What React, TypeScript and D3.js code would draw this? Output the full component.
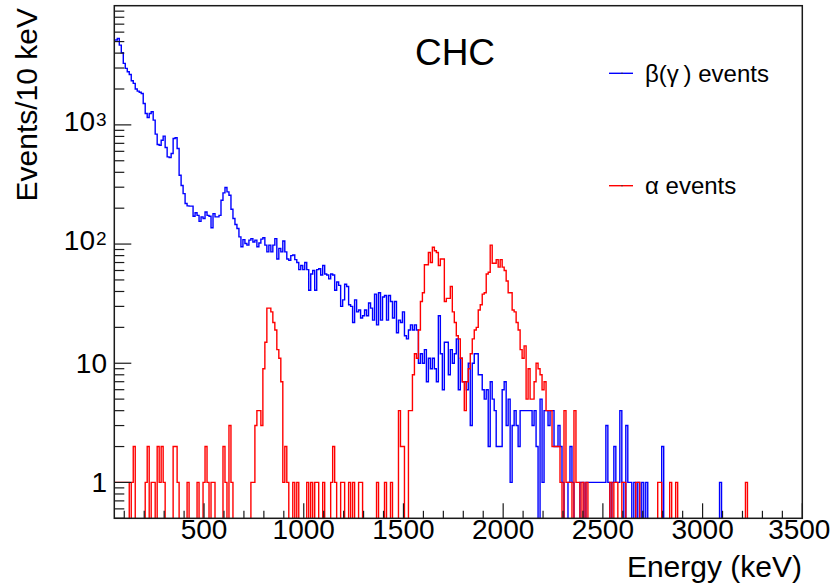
import React from "react";
import * as d3 from "d3";

const WIDTH = 840;
const HEIGHT = 587;
const BIN_WIDTH = 10;
const X_MIN = 50;
const X_MAX = 3500;
const Y_MIN = 0.5;
const Y_MAX = 10000;

// beta(gamma) events, dense segments (bin centres, 10 keV bins)
const blueLowStart = 50;
const blueLow = [
  5150, 5150, 5300, 4670, 4030, 3280, 2980, 2790, 2650, 2345,
  2230, 2000, 1920, 1880, 1835, 1512, 1246, 1154, 1246, 1288,
  1096, 836, 684, 675, 744, 804, 646, 539, 532, 575,
  769, 779, 634, 378, 310, 265, 219, 209, 208, 208,
  171, 183, 174, 155, 169, 164, 186, 174, 171, 137,
  180, 169, 169, 174, 233, 269, 298, 274, 257, 196,
  164, 146, 135, 115, 95, 109, 101, 98, 108, 111,
  104, 108, 95, 102, 110, 113, 98, 86, 98, 86,
  98, 111, 75, 92, 86, 106, 86, 75,
];
const blueMidStart = 930;
const blueMid = [
  73, 80, 81, 74, 70, 61, 66, 61, 70, 61,
  41, 56, 60, 41, 61, 62, 55, 66, 56, 55,
  51, 56, 55, 41, 48, 45, 30, 34, 46, 44,
  31, 30, 22, 34, 27, 28, 24, 25, 28, 25,
  32, 29, 23, 38, 21, 39, 23, 36, 37, 23,
];
const blueHighStart = 1430;
const blueHigh = [
  37, 33, 24, 33, 18, 23, 22, 27, 17, 16,
  19, 21, 19, 21, 19, 10, 12, 10, 13, 7,
  11, 9, 11, 9, 7, 25, 12, 6, 15, 15,
  8, 13, 10, 12, 16, 6, 11, 7, 7, 6,
  10, 3, 10, 12, 12, 8, 8, 6, 5, 6,
  2, 7, 5, 4, 2, 2, 2, 6, 7, 3,
  5, 1, 3, 4, 3, 2, 4, 4, 4, 4,
  4, 4, 3, 4, 2,
];
const blueTail: [number, number][] = [
  [2190, 5], [2200, 1], [2210, 4], [2220, 4], [2230, 3], [2240, 4], [2250, 4],
  [2260, 2], [2270, 2], [2280, 3], [2290, 2], [2300, 1], [2330, 1], [2340, 2],
  [2350, 1], [2390, 1], [2400, 1], [2420, 1], [2430, 1], [2440, 1], [2450, 1],
  [2460, 1], [2470, 1], [2480, 1], [2490, 1], [2500, 1], [2510, 1], [2520, 3],
  [2530, 1], [2550, 1], [2560, 2], [2570, 1], [2580, 1], [2590, 4], [2600, 1],
  [2620, 3], [2630, 1], [2640, 1], [2660, 1], [2680, 1], [2700, 1], [2720, 1],
  [2800, 2], [3090, 1],
];

// alpha events
const redPeak1Start = 740;
const redPeak1 = [1, 1, 3, 4, 4, 3, 9, 15, 29, 29, 27, 22, 19, 13, 11, 7, 1, 2, 1];
const redPeak2Start = 1480;
const redPeak2 = [
  4, 2, 2, 0, 0, 4, 4, 8, 12, 11,
  19, 33, 39, 67, 67, 85, 70, 94, 88, 85,
  66, 75, 75, 33, 35, 35, 44, 27, 22, 17,
  16, 11, 7, 4, 7, 9, 12, 16, 19, 20,
  28, 31, 38, 39, 56, 58, 98, 69, 69, 74,
  64, 74, 64, 60, 49, 39, 39, 28, 27, 22,
  19, 13, 11, 14, 5, 9, 5, 5, 7, 10,
  9, 8, 6, 7, 4, 4, 4, 2, 2, 2,
  2, 1, 0, 4, 1, 1, 1, 0, 4, 1,
  1,
];
const redSparse: [number, number][] = [
  [50, 1], [60, 1], [70, 1], [80, 1], [90, 1], [100, 1], [110, 1], [120, 1],
  [140, 1], [150, 2], [210, 1], [220, 2], [240, 1], [250, 1], [270, 2], [280, 1],
  [290, 2], [300, 1], [350, 2], [360, 2], [370, 1], [420, 1], [470, 1], [500, 1],
  [510, 2], [520, 1], [540, 1], [550, 1], [600, 2], [610, 1], [630, 3], [640, 1],
  [950, 1], [970, 1], [1020, 1], [1040, 1], [1060, 1], [1070, 1], [1100, 1],
  [1140, 1], [1150, 2], [1160, 1], [1190, 1], [1200, 1], [1230, 1], [1250, 1],
  [1280, 1], [1290, 1], [1370, 1], [1410, 1], [1440, 1],
  [2400, 1], [2420, 1], [2540, 1], [2560, 1], [2570, 1], [2600, 1], [2610, 1],
  [2670, 1], [2680, 1], [2780, 1], [2790, 1], [2840, 1], [2870, 1], [3220, 1],
];

const xMajorTicks = [500, 1000, 1500, 2000, 2500, 3000, 3500];
const yLabelTicks = [1, 10, 100, 1000];
const legendItems = [
  { label: "β(γ\u2009) events", color: "#0000ff" },
  { label: "α events", color: "#ff0000" },
];

const FONT = "'Liberation Sans', Arial, Helvetica, sans-serif";
const AXIS = "#1a1a1a";

function buildCounts(
  segments: { start: number; values: number[] }[],
  sparse: [number, number][]
): Map<number, number> {
  const m = new Map<number, number>();
  segments.forEach((s) =>
    s.values.forEach((v, i) => m.set(s.start + i * BIN_WIDTH, v))
  );
  sparse.forEach(([e, v]) => m.set(e, v));
  return m;
}

export default function App() {
  const left = 114.3;
  const right = 802.3;
  const top = 5.7;
  const bottom = 518.3;

  const x = d3.scaleLinear().domain([X_MIN, X_MAX]).range([left, right]);
  const y = d3.scaleLog().domain([Y_MIN, Y_MAX]).range([bottom, top]);

  const centers = d3.range(X_MIN, X_MAX + 1, BIN_WIDTH);

  const blue = buildCounts(
    [
      { start: blueLowStart, values: blueLow },
      { start: blueMidStart, values: blueMid },
      { start: blueHighStart, values: blueHigh },
    ],
    blueTail
  );
  const red = buildCounts(
    [
      { start: redPeak1Start, values: redPeak1 },
      { start: redPeak2Start, values: redPeak2 },
    ],
    redSparse
  );

  const histPath = (counts: Map<number, number>) => {
    const pts: [number, number][] = [];
    const yv = (v: number) => (v > 0 ? y(Math.max(v, Y_MIN)) : bottom + 2);
    pts.push([x(centers[0] - BIN_WIDTH / 2), bottom + 2]);
    centers.forEach((c) => {
      const v = counts.get(c) ?? 0;
      pts.push([x(c - BIN_WIDTH / 2), yv(v)]);
      pts.push([x(c + BIN_WIDTH / 2), yv(v)]);
    });
    pts.push([x(centers[centers.length - 1] + BIN_WIDTH / 2), bottom + 2]);
    return d3.line()(pts) ?? "";
  };

  const xMinor = d3.range(100, X_MAX + 1, 100).filter((t) => t % 500 !== 0);
  const yMinor: number[] = [];
  [0.1, 1, 10, 100, 1000].forEach((d) => {
    for (let m = 2; m <= 9; m++) {
      const v = d * m;
      if (v >= Y_MIN && v < Y_MAX) yMinor.push(v);
    }
  });
  const yMajor = [1, 10, 100, 1000];

  return (
    <svg
      width={WIDTH}
      height={HEIGHT}
      style={{ position: "absolute", left: 0, top: 0, background: "#fff" }}
      fontFamily={FONT}
    >
      <defs>
        <clipPath id="plotClip">
          <rect x={left} y={top} width={right - left} height={bottom - top} />
        </clipPath>
      </defs>
      <rect x={0} y={0} width={WIDTH} height={HEIGHT} fill="#fff" />

      <g clipPath="url(#plotClip)" fill="none" strokeLinejoin="miter">
        <path d={histPath(blue)} stroke="#0000ff" strokeWidth={1.4} />
        <path d={histPath(red)} stroke="#ff0000" strokeWidth={1.4} />
      </g>

      <rect
        x={left}
        y={top}
        width={right - left}
        height={bottom - top}
        fill="none"
        stroke={AXIS}
        strokeWidth={1.5}
      />

      <g stroke={AXIS} strokeWidth={1.2}>
        {xMajorTicks.map((t) => (
          <line key={"xM" + t} x1={x(t)} x2={x(t)} y1={bottom} y2={bottom - 15} />
        ))}
        {xMinor.map((t) => (
          <line key={"xm" + t} x1={x(t)} x2={x(t)} y1={bottom} y2={bottom - 7.5} />
        ))}
        {yMajor.map((t) => (
          <line key={"yM" + t} x1={left} x2={left + 17} y1={y(t)} y2={y(t)} />
        ))}
        {yMinor.map((t) => (
          <line key={"ym" + t} x1={left} x2={left + 10} y1={y(t)} y2={y(t)} />
        ))}
      </g>

      {xMajorTicks.map((t) => (
        <text
          key={"xl" + t}
          x={t === X_MAX ? x(t) - 3 : x(t)}
          y={539}
          fontSize={28}
          textAnchor="middle"
          fill="#000"
        >
          {t}
        </text>
      ))}

      {yLabelTicks.map((t) => {
        const exp = Math.round(Math.log10(t));
        if (exp <= 1) {
          return (
            <text
              key={"yl" + t}
              x={107}
              y={y(t) + 10}
              fontSize={28}
              textAnchor="end"
              fill="#000"
            >
              {t}
            </text>
          );
        }
        return (
          <g key={"yl" + t}>
            <text x={95} y={y(t) + 6} fontSize={28} textAnchor="end" fill="#000">
              10
            </text>
            <text x={96} y={y(t) + 1} fontSize={19} textAnchor="start" fill="#000">
              {exp}
            </text>
          </g>
        );
      })}

      <text x={802} y={577} fontSize={30} textAnchor="end" fill="#000">
        Energy (keV)
      </text>
      <text
        transform={`translate(37, 8) rotate(-90)`}
        fontSize={30}
        textAnchor="end"
        fill="#000"
      >
        Events/10 keV
      </text>

      <text x={455} y={65} fontSize={37} textAnchor="middle" fill="#000">
        CHC
      </text>

      {legendItems.map((it, i) => {
        const ly = i === 0 ? 73.3 : 185.7;
        return (
          <g key={it.label}>
            <line x1={609} x2={633} y1={ly} y2={ly} stroke={it.color} strokeWidth={1.4} />
            <circle cx={622} cy={ly} r={0.7} fill="#333" />
            <text x={645} y={ly + 8.5} fontSize={24} fill="#000">
              {it.label}
            </text>
          </g>
        );
      })}
    </svg>
  );
}
